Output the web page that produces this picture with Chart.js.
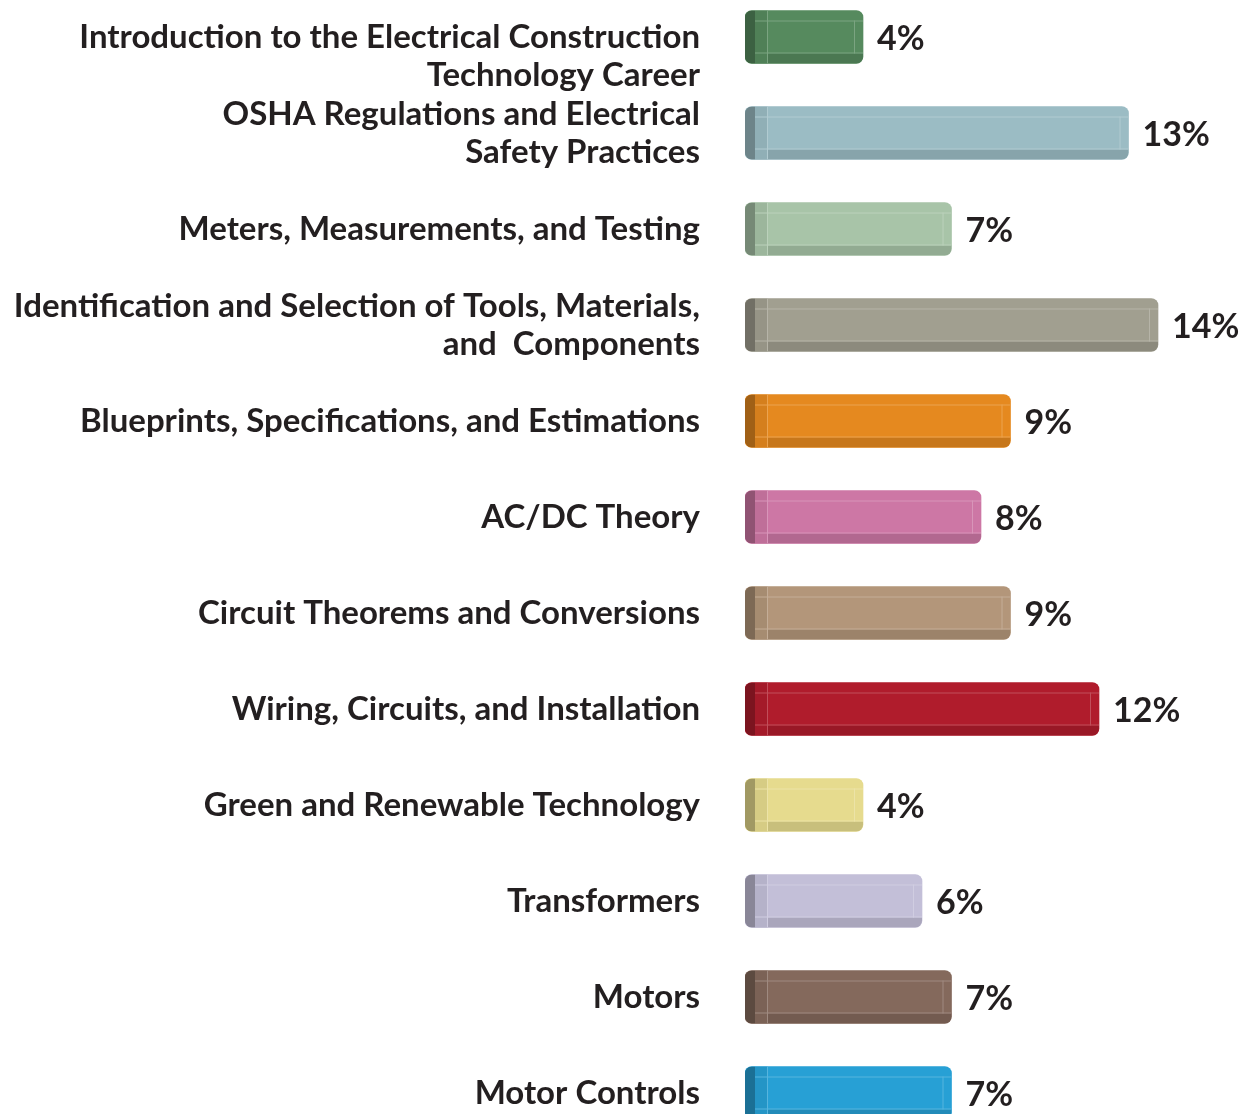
<!DOCTYPE html>
<html>
<head>
<meta charset="utf-8">
<script src="https://cdn.jsdelivr.net/npm/chart.js@4.4.1/dist/chart.umd.min.js"></script>
<style>
  html, body { margin: 0; padding: 0; background: #fff; overflow: hidden; }
  #wrap { position: absolute; left: 0; top: -11px; width: 1241px; height: 1152px; }
</style>
</head>
<body>
<div id="wrap"><canvas id="skills"></canvas></div>
<script>
// first label sits with its top line level with the bar, so pad it with a blank line
const topics = [
  ['', 'Introduction to the Electrical Construction', 'Technology Career'],
  ['OSHA Regulations and Electrical', 'Safety Practices'],
  'Meters, Measurements, and Testing',
  ['Identification and Selection of Tools, Materials,', 'and  Components'],
  'Blueprints, Specifications, and Estimations',
  'AC/DC Theory',
  'Circuit Theorems and Conversions',
  'Wiring, Circuits, and Installation',
  'Green and Renewable Technology',
  'Transformers',
  'Motors',
  'Motor Controls'
];
const shares = [4, 13, 7, 14, 9, 8, 9, 12, 4, 6, 7, 7];
const barColors = [
  '#568a5e', '#9bbcc4', '#a8c4a8', '#a19f90', '#e5891f', '#cd77a5',
  '#b3967a', '#b01c2c', '#e6db8e', '#c3bfd8', '#84695c', '#27a0d5'
];

function shade(hex, f) {
  const n = parseInt(hex.slice(1), 16);
  let r = (n >> 16) & 255, g = (n >> 8) & 255, b = n & 255;
  if (f < 0) { r *= 1 + f; g *= 1 + f; b *= 1 + f; }
  else { r += (255 - r) * f; g += (255 - g) * f; b += (255 - b) * f; }
  return 'rgb(' + Math.round(r) + ',' + Math.round(g) + ',' + Math.round(b) + ')';
}

// bevel + value labels on top of the bars chart.js draws
const bevel = {
  id: 'bevel',
  afterDatasetsDraw(chart) {
    const ctx = chart.ctx;
    const meta = chart.getDatasetMeta(0);
    meta.data.forEach((bar, i) => {
      const base = barColors[i];
      const x0 = bar.base, x1 = bar.x;
      const h = bar.height, y0 = bar.y - h / 2, y1 = bar.y + h / 2;
      ctx.save();
      ctx.beginPath();
      ctx.roundRect(x0, y0, x1 - x0, h, 7);
      ctx.clip();
      // bottom darker strip
      ctx.fillStyle = shade(base, -0.13);
      ctx.fillRect(x0, y1 - 10, x1 - x0, 10);
      // left cap
      ctx.fillStyle = shade(base, -0.3);
      ctx.fillRect(x0, y0, 10, h);
      ctx.fillStyle = shade(base, -0.07);
      ctx.fillRect(x0 + 10, y0, 12, h);
      // highlight lines
      ctx.strokeStyle = shade(base, 0.22);
      ctx.lineWidth = 1;
      ctx.beginPath();
      ctx.moveTo(x0 + 10, y0 + 10.5); ctx.lineTo(x1, y0 + 10.5);
      ctx.moveTo(x0 + 10, y1 - 10.5); ctx.lineTo(x1, y1 - 10.5);
      ctx.moveTo(x0 + 22.5, y0); ctx.lineTo(x0 + 22.5, y1);
      ctx.moveTo(x1 - 8.5, y0 + 10); ctx.lineTo(x1 - 8.5, y1 - 10);
      ctx.stroke();
      ctx.restore();

      ctx.save();
      ctx.fillStyle = '#231f20';
      ctx.font = 'bold 34px Lato, "Open Sans", sans-serif';
      ctx.textAlign = 'left';
      ctx.textBaseline = 'middle';
      ctx.fillText(shares[i] + '%', x1 + 14, bar.y + 2);
      ctx.restore();
    });
  }
};

new Chart(document.getElementById('skills'), {
  type: 'bar',
  data: {
    labels: topics,
    datasets: [{
      data: shares,
      backgroundColor: barColors,
      borderWidth: 0,
      borderRadius: 7,
      borderSkipped: false,
      barThickness: 53
    }]
  },
  options: {
    indexAxis: 'y',
    responsive: true,
    maintainAspectRatio: false,
    animation: false,
    layout: { padding: { left: 0, right: 24, top: 0, bottom: 0 } },
    plugins: {
      legend: { display: false },
      tooltip: { enabled: false }
    },
    scales: {
      x: {
        display: false,
        min: 0,
        max: 16
      },
      y: {
        afterFit(scale) {
          scale.width = 745;
          scale.paddingTop = 0;
          scale.paddingBottom = 0;
        },
        grid: { display: false, drawTicks: false },
        border: { display: false },
        ticks: {
          autoSkip: false,
          padding: 45,
          color: '#231f20',
          font: { family: 'Lato, "Open Sans", sans-serif', size: 33, weight: 'bold', lineHeight: 1.15 }
        }
      }
    }
  },
  plugins: [bevel]
});
</script>
</body>
</html>
